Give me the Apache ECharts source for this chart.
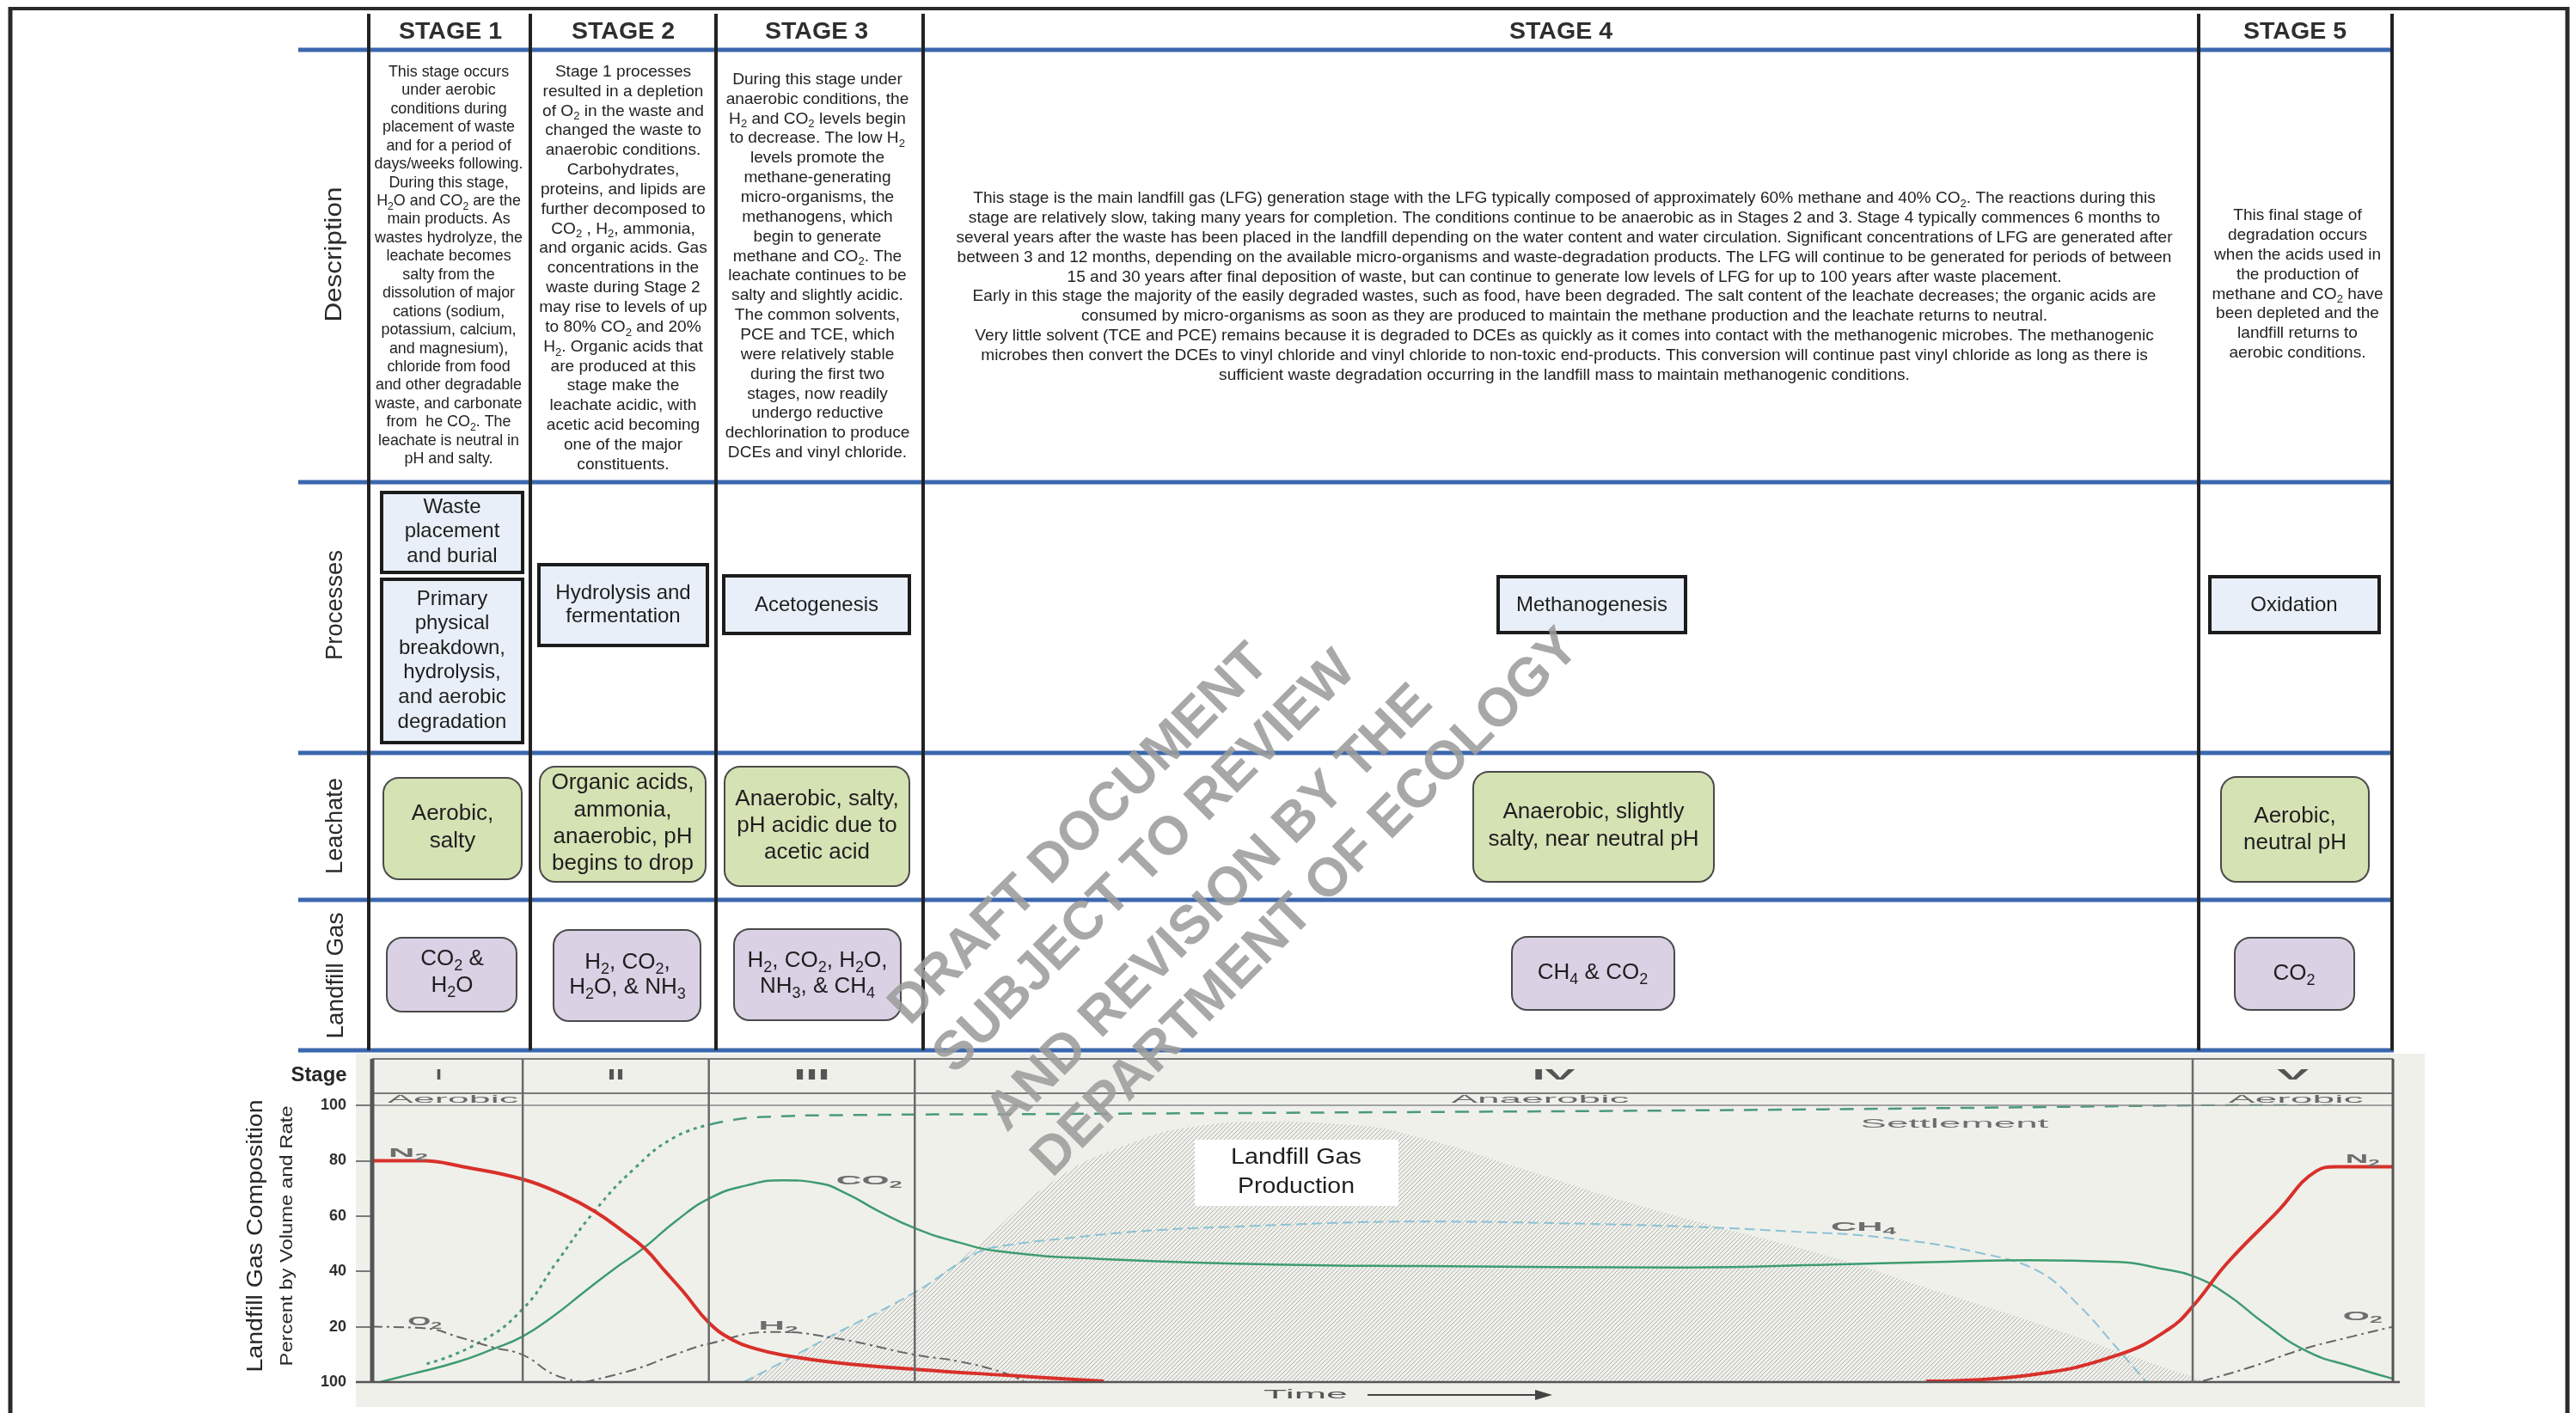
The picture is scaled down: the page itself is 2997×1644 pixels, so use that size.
<!DOCTYPE html>
<html><head><meta charset="utf-8">
<script src="https://cdn.jsdelivr.net/npm/echarts@6/dist/echarts.min.js"></script>
<style>html,body{margin:0;padding:0;background:#fff}#c{width:2997px;height:1644px}</style>
</head><body><div id="c"></div>
<script>
// ================= DATA =================
const stageHeaders = ['STAGE 1','STAGE 2','STAGE 3','STAGE 4','STAGE 5'];
const rowLabels = ['Description','Processes','Leachate','Landfill Gas'];

const desc1 = ['This stage occurs','under aerobic','conditions during','placement of waste','and for a period of','days/weeks following.','During this stage,','H{s|2}O and CO{s|2} are the','main products. As','wastes hydrolyze, the','leachate becomes','salty from the','dissolution of major','cations (sodium,','potassium, calcium,','and magnesium),','chloride from food','and other degradable','waste, and carbonate','from  he CO{s|2}. The','leachate is neutral in','pH and salty.'];
const desc2 = ['Stage 1 processes','resulted in a depletion','of O{s|2} in the waste and','changed the waste to','anaerobic conditions.','Carbohydrates,','proteins, and lipids are','further decomposed to','CO{s|2} , H{s|2}, ammonia,','and organic acids. Gas','concentrations in the','waste during Stage 2','may rise to levels of up','to 80% CO{s|2} and 20%','H{s|2}. Organic acids that','are produced at this','stage make the','leachate acidic, with','acetic acid becoming','one of the major','constituents.'];
const desc3 = ['During this stage under','anaerobic conditions, the','H{s|2} and CO{s|2} levels begin','to decrease. The low H{s|2}','levels promote the','methane-generating','micro-organisms, the','methanogens, which','begin to generate','methane and CO{s|2}. The','leachate continues to be','salty and slightly acidic.','The common solvents,','PCE and TCE, which','were relatively stable','during the first two','stages, now readily','undergo reductive','dechlorination to produce','DCEs and vinyl chloride.'];
const desc4 = [
'This stage is the main landfill gas (LFG) generation stage with the LFG typically composed of approximately 60% methane and 40% CO{s|2}. The reactions during this',
'stage are relatively slow, taking many years for completion. The conditions continue to be anaerobic as in Stages 2 and 3. Stage 4 typically commences 6 months to',
'several years after the waste has been placed in the landfill depending on the water content and water circulation. Significant concentrations of LFG are generated after',
'between 3 and 12 months, depending on the available micro-organisms and waste-degradation products. The LFG will continue to be generated for periods of between',
'15 and 30 years after final deposition of waste, but can continue to generate low levels of LFG for up to 100 years after waste placement.',
'Early in this stage the majority of the easily degraded wastes, such as food, have been degraded. The salt content of the leachate decreases; the organic acids are',
'consumed by micro-organisms as soon as they are produced to maintain the methane production and the leachate returns to neutral.',
'Very little solvent (TCE and PCE) remains because it is degraded to DCEs as quickly as it comes into contact with the methanogenic microbes. The methanogenic',
'microbes then convert the DCEs to vinyl chloride and vinyl chloride to non-toxic end-products. This conversion will continue past vinyl chloride as long as there is',
'sufficient waste degradation occurring in the landfill mass to maintain methanogenic conditions.'];
const desc5 = ['This final stage of','degradation occurs','when the acids used in','the production of','methane and CO{s|2} have','been depleted and the','landfill returns to','aerobic conditions.'];

const processTexts = [['Waste','placement','and burial'],['Primary','physical','breakdown,','hydrolysis,','and aerobic','degradation'],['Hydrolysis and','fermentation'],['Acetogenesis'],['Methanogenesis'],['Oxidation']];
const leachateTexts = [['Aerobic,','salty'],['Organic acids,','ammonia,','anaerobic, pH','begins to drop'],['Anaerobic, salty,','pH acidic due to','acetic acid'],['Anaerobic, slightly','salty, near neutral pH'],['Aerobic,','neutral pH']];
const gasTexts = [['CO{s|2} &','H{s|2}O'],['H{s|2}, CO{s|2},','H{s|2}O, & NH{s|3}'],['H{s|2}, CO{s|2}, H{s|2}O,','NH{s|3}, & CH{s|4}'],['CH{s|4} & CO{s|2}'],['CO{s|2}']];

const chartStages = ['I','II','III','IV','V'];
const stageBounds = [7.45, 16.66, 26.85, 90.09];
const bandTexts = ['Aerobic','Anaerobic','Aerobic'];
const yTickLabels = ['100','20','40','60','80','100'];
const curveLabelTexts = ['N{s|2}','O{s|2}','CO{s|2}','H{s|2}','CH{s|4}','Settlement','N{s|2}','O{s|2}'];
const watermarkLines = ['DRAFT DOCUMENT','SUBJECT TO REVIEW','AND REVISION BY THE','DEPARTMENT OF ECOLOGY'];

// gas composition curves: [time (0-100), percent]
const n2Data = [[0,80],[2.5,80],[4.5,77.8],[7.45,73.3],[9.5,67.5],[11.0,61.7],[12.5,54],[13.5,48.2],[14.5,40],[15.4,32.6],[16.7,21.2],[17.9,15],[19.0,12],[20.3,9.8],[23.0,7],[26.9,4.6],[31.7,2.3],[36.2,0.3],[56,'-'],[76.9,0.3],[82.0,2.5],[86.4,9.8],[88.9,19.1],[90.1,27.4],[91.8,43],[94.3,61.7],[96.2,76.2],[97.2,77.8],[100,77.8]];
const co2Data = [[0.4,0],[2,3],[4.2,7.2],[6,12],[7.45,16.5],[9,24],[10.5,32.6],[12,41],[13.4,48.2],[15,58],[16.7,66.4],[18.5,71],[20.3,72.9],[22,72],[23.5,68],[25,62],[26.9,55.5],[29,50.5],[31.2,47.1],[36,44.5],[44.6,42.5],[52,41.9],[65,41.4],[72.3,42.5],[78,43.5],[82,44],[86.4,43.4],[88.5,41],[90.1,38.3],[91.8,31.6],[93.5,22],[95.7,11.3],[98,5.5],[100,1.2]];
const settleDotted = [[2.7,6.6],[5.2,13.9],[7.45,26.4],[9.1,43],[11,61.7],[13,77.3],[14.9,88.2],[16.7,93]];
const settleDashed = [[16.7,93],[19.1,95.7],[24,96.5],[31.7,96.8],[50,97.5],[65.8,98.2],[78,99],[90,100],[97,100.6]];
const ch4Data = [[18.4,0],[20.5,8],[22.8,17],[26.9,32.6],[29.9,46.6],[31.5,49.5],[34.8,52.3],[38,54.5],[42.1,56],[51.9,58],[58,57.5],[65.8,56],[70,54.5],[74.7,52.3],[79.6,46.6],[82.5,39.9],[84.5,27.4],[86.4,11.8],[87.8,0]];
const o2Data = [[0,20],[2.5,19.5],[4.4,16],[6,12.5],[7.45,9.8],[9.07,2.5],[10.5,0],[50,'-'],[90.6,0.4],[93,5.5],[95.5,11.8],[98,16.5],[100,20]];
const h2Data = [[10.5,0],[13,4.6],[15,10],[16.7,13.9],[19.8,18.1],[22.8,16],[26.9,9.8],[29,7.5],[31.2,3.5],[32.3,0]];
const lfgData = [[18.4,0],[22.8,17],[26.9,32.6],[29.9,49],[33.6,72],[37.3,85.6],[40.9,92.5],[44.1,94],[48.3,93],[51.9,88.2],[56.8,77.3],[61.7,65.9],[65.8,57.6],[72.3,45],[77.1,33.6],[82,22.2],[86.9,9.8],[90.1,1.8],[91,0]];

// ================= HELPERS =================
const FF = "'Liberation Sans', Arial, Helvetica, sans-serif";
const mctx = document.createElement('canvas').getContext('2d');
function segs(s){ const out=[]; const re=/\{s\|([^}]*)\}/g; let last=0,m;
  while((m=re.exec(s))){ if(m.index>last) out.push([s.slice(last,m.index),false]); out.push([m[1],true]); last=re.lastIndex; }
  if(last<s.length) out.push([s.slice(last),false]); return out; }
function measure(s,size,weight){ let w=0; const sub=Math.round(size*0.68);
  for(const [t,isSub] of segs(s)){ mctx.font=(weight||'normal')+' '+(isSub?sub:size)+'px '+FF; w+=mctx.measureText(t).width; } return w; }
function fit(s,size,weight,target){ return target/measure(s,size,weight); }
function T(x,y,s,o){
  const size=o.size, sub=Math.round(size*0.68), col=o.color||'#262626', wt=o.weight||'normal', al=o.align||'center';
  return {type:'text', x:x, y:y, rotation:o.rot||0, scaleX:o.sx||1, scaleY:o.sy||1, z:o.z||5, silent:true,
    style:{text:s, fontSize:size, fontFamily:FF, fontWeight:wt, fill:col, opacity:(o.opacity==null?1:o.opacity),
      lineHeight:Math.round(size*1.35), align:al, textAlign:al, verticalAlign:'middle', textVerticalAlign:'middle',
      rich:{ s:{fontSize:sub, fontFamily:FF, fontWeight:wt, fill:col, lineHeight:sub, verticalAlign:'bottom'} } } };
}
function block(arr,cx,y0,dy,o){ return arr.map((s,i)=>T(cx,y0+i*dy,s,o)); }
function L(x1,y1,x2,y2,c,w,z){ return {type:'line', z:z||4, silent:true, shape:{x1,y1,x2,y2}, style:{stroke:c,lineWidth:w}}; }
function R(x,y,w,h,fill,stroke,lw,r,z){ return {type:'rect', z:z||3, silent:true, shape:{x,y,width:w,height:h,r:r||0}, style:{fill,stroke,lineWidth:lw||0}}; }

// hatch pattern
const hc=document.createElement('canvas'); hc.width=5; hc.height=5;
(function(){ const g=hc.getContext('2d'); g.strokeStyle='#b2b2b0'; g.lineWidth=1; g.beginPath();
  g.moveTo(0,5); g.lineTo(5,0); g.moveTo(-1,1); g.lineTo(1,-1); g.moveTo(4,6); g.lineTo(6,4); g.stroke(); })();

// ================= CHART =================
const chart = echarts.init(document.getElementById('c'), null, {renderer:'canvas', width:2997, height:1644});
const sBase = {type:'line', showSymbol:false, symbol:'none', silent:true, connectNulls:false};
chart.setOption({
  animation:false, backgroundColor:'#ffffff',
  grid:{left:433, right:213, top:1286, bottom:36},
  xAxis:{type:'value', min:0, max:100, axisLine:{show:false}, axisTick:{show:false}, axisLabel:{show:false}, splitLine:{show:false}},
  yAxis:{type:'value', min:0, max:100, interval:20, axisLine:{show:false},
    axisTick:{show:true, length:19, lineStyle:{color:'#7a7a7a', width:2}},
    axisLabel:{margin:30, fontSize:18, fontWeight:'bold', fontFamily:FF, color:'#2e2e2e', formatter:(v)=>yTickLabels[Math.round(v/20)]},
    splitLine:{show:false}},
  series:[
    Object.assign({}, sBase, {name:'Landfill Gas Production', data:lfgData, smooth:0.5, z:1, lineStyle:{width:0, opacity:0}, areaStyle:{color:{image:hc, repeat:'repeat'}, opacity:1}}),
    Object.assign({}, sBase, {name:'Settlement a', data:settleDotted, smooth:0.5, z:3, lineStyle:{color:'#4a9a7c', width:3, type:[4,5]}}),
    Object.assign({}, sBase, {name:'Settlement b', data:settleDashed, smooth:0.5, z:3, lineStyle:{color:'#4a9a7c', width:2.5, type:[16,12]}}),
    Object.assign({}, sBase, {name:'CH4', data:ch4Data, smooth:0.4, z:3, lineStyle:{color:'#8cc2d6', width:2, type:[12,6]}}),
    Object.assign({}, sBase, {name:'CO2', data:co2Data, smooth:0.5, z:4, lineStyle:{color:'#3d9c6f', width:2.5}}),
    Object.assign({}, sBase, {name:'O2', data:o2Data, smooth:0.5, z:4, lineStyle:{color:'#666', width:2, type:[12,5,3,5]}}),
    Object.assign({}, sBase, {name:'H2', data:h2Data, smooth:0.5, z:4, lineStyle:{color:'#666', width:2, type:[12,5,3,5]}}),
    Object.assign({}, sBase, {name:'N2', data:n2Data, smooth:0.45, z:5, lineStyle:{color:'#d8302a', width:4}})
  ]
});

const px = t => chart.convertToPixel({gridIndex:0},[t,0])[0];
const py = v => chart.convertToPixel({gridIndex:0},[0,v])[1];
const X0=px(0), X1=px(100), YT=py(100), YB=py(0);
const BT=YT-54, BM=YT-14;

const els = [];
// outer frame
els.push(L(12,10,2987,10,'#2a2a2a',4,6), L(12,8,12,1644,'#2a2a2a',5,6), L(2987,8,2987,1644,'#2a2a2a',5,6));

// --- table ---
const colX = [429,617,833,1074,2558,2783];
const rowY = [58,561,876,1047,1222];
rowY.forEach(y=>els.push(L(347,y,2785,y,'#3b67ae',5,4)));
colX.forEach(x=>els.push(L(x,16,x,1222,'#222',4,5)));

// headers
const hdrX=[524,725,950,1816,2670];
const hsx = fit('STAGE 1',27,'bold',120);
stageHeaders.forEach((h,i)=>els.push(T(hdrX[i],38,h,{size:27,weight:'bold',color:'#2e2e2e',sx:hsx})));

// row labels
const rlPos=[[390,296,157],[391,704,128],[391,961,112],[392,1135,147]];
rowLabels.forEach((r,i)=>{ const sz=27; els.push(T(rlPos[i][0],rlPos[i][1],r,{size:sz,rot:Math.PI/2,sx:fit(r,sz,'normal',rlPos[i][2]),color:'#2a2a2a'})); });

// descriptions
const dsz=19;
els.push(...block(desc1,522,83.6,21.45,{size:dsz,sx:fit('days/weeks following.',dsz,'normal',173),color:'#222'}));
els.push(...block(desc2,725,83.6,22.85,{size:dsz,sx:fit('and organic acids. Gas',dsz,'normal',195.4),color:'#222'}));
els.push(...block(desc3,951,92.7,22.85,{size:dsz,sx:fit('dechlorination to produce',dsz,'normal',214.7),color:'#222'}));
els.push(...block(desc4,1820,231,22.85,{size:dsz,sx:fit(desc4[3],dsz,'normal',1413),color:'#222'}));
els.push(...block(desc5,2673,251,22.85,{size:dsz,sx:fit('when the acids used in',dsz,'normal',194),color:'#222'}));

// process boxes
const pBox=[[444,573,608,666],[444,674,608,864],[627,657,823,751],[842,670,1058,737],[1743,671,1961,736],[2571,671,2768,736]];
const pTxt=[[526,590,28.6],[526,697,28.6],[725,690,27.5],[950,704,0],[1852,704,0],[2669,704,0]];
pBox.forEach((b,i)=>{ els.push(R(b[0],b[1],b[2]-b[0],b[3]-b[1],'#e9eff8','#1c1c1c',4,0,3));
  els.push(...block(processTexts[i],pTxt[i][0],pTxt[i][1],pTxt[i][2],{size:24,color:'#1e1e1e'})); });

// leachate boxes
const lBox=[[446,905,607,1023],[628,892,821,1026],[843,892,1058,1031],[1714,898,1994,1026],[2584,904,2756,1026]];
const lTxt=[[526.5,947,32],[724.5,911,31.4],[950.5,929.5,31],[1854,944.5,32.5],[2670,950,31]];
lBox.forEach((b,i)=>{ els.push(R(b[0],b[1],b[2]-b[0],b[3]-b[1],'#d5e2b4','#4a4a4a',2,18,3));
  els.push(...block(leachateTexts[i],lTxt[i][0],lTxt[i][1],lTxt[i][2],{size:26,color:'#1e1e1e'})); });

// gas boxes
const gBox=[[450,1091,601,1177],[644,1082,815,1188],[854,1081,1048,1187],[1759,1090,1948,1175],[2600,1091,2739,1175]];
const gTxt=[[526,1115.5,31.5],[730,1120,29],[951,1117.5,30.5],[1853,1132,0],[2669,1133,0]];
gBox.forEach((b,i)=>{ els.push(R(b[0],b[1],b[2]-b[0],b[3]-b[1],'#dad1e5','#4a4a4a',2,18,3));
  els.push(...block(gasTexts[i],gTxt[i][0],gTxt[i][1],gTxt[i][2],{size:26,color:'#1e1e1e'})); });

// --- chart panel & frame ---
els.push(Object.assign(R(414,1226,2821-414,1637-1226,'#f0f0eb',null,0,0,0),{z:-10}));
els.push(L(X0,BT,X1,BT,'#7a7a7a',2,6), L(X0,BM,X1,BM,'#7a7a7a',2,6), L(X0,YT,X1,YT,'#8a8a8a',1.5,6));
els.push(L(414,YB,X1+8,YB,'#555',2.5,6));
els.push(L(X0,BT,X0,YB+1,'#555',5,7), L(X1,BT,X1,YB+1,'#555',3,7));
stageBounds.forEach(b=>els.push(L(px(b),BT,px(b),YB,'#6a6a6a',2.5,6)));
const sEdges=[0].concat(stageBounds,[100]);
const romanW=[7,20,42,50,37];
chartStages.forEach((s,i)=>{ const cx=px((sEdges[i]+sEdges[i+1])/2)+(i===0?-10:0);
  els.push(T(cx,BT+20,s,{size:16,weight:'bold',color:'#555',sx:fit(s,16,'bold',romanW[i]),z:8})); });
const bandLayout=[[4.0,152],[57.8,207],[95.2,157]];
bandTexts.forEach((s,i)=>els.push(T(px(bandLayout[i][0]),BM+7,s,{size:13,color:'#6a6a6a',sx:fit(s,13,'normal',bandLayout[i][1]),z:8})));

// curve labels
const labelLayout=[[1.79,82.6,46],[2.6,21.8,40],[24.6,72.6,77],[20.1,20.2,46],[73.8,55.8,76],[78.3,93.1,219],[98.5,80.4,40],[98.5,23.7,46]];
curveLabelTexts.forEach((s,i)=>{ const a=labelLayout[i]; const sz=15; const wt=(s==='Settlement'?'normal':'bold');
  els.push(T(px(a[0]),py(a[1]),s,{size:sz,weight:wt,color:'#6e6e6e',sx:fit(s,sz,wt,a[2]),z:8})); });

// Landfill Gas Production label
els.push(R(1390,1326,237,77,'#ffffff',null,0,0,9));
els.push(T(1508,1347,'Landfill Gas',{size:26,color:'#1e1e1e',sx:fit('Landfill Gas',26,'normal',152),z:10}));
els.push(T(1508,1381,'Production',{size:26,color:'#1e1e1e',sx:fit('Production',26,'normal',136),z:10}));

// axis titles
els.push(T(298,1438,'Landfill Gas Composition',{size:25,rot:Math.PI/2,sx:fit('Landfill Gas Composition',25,'normal',317),color:'#262626'}));
els.push(T(334,1438,'Percent by Volume and Rate',{size:20,rot:Math.PI/2,sx:fit('Percent by Volume and Rate',20,'normal',303),color:'#262626'}));
els.push(T(371,1251,'Stage',{size:24,weight:'bold',sx:fit('Stage',24,'bold',65),color:'#262626'}));

// Time arrow
els.push(T(1519,1623,'Time',{size:15,color:'#555',sx:fit('Time',15,'normal',98),z:8}));
els.push(L(1591,1623,1790,1623,'#444',2,8));
els.push({type:'polygon',z:8,silent:true,shape:{points:[[1786,1617],[1806,1623],[1786,1629]]},style:{fill:'#444'}});

// watermark
const wmPos=[[1046,1182],[1098,1239],[1159,1306],[1212,1359]];
watermarkLines.forEach((s,i)=>els.push(T(wmPos[i][0],wmPos[i][1],s,{size:63,weight:'bold',align:'left',rot:Math.PI/4,color:'#9c9c9c',opacity:0.88,z:100})));

chart.setOption({graphic:{elements:els}});
</script></body></html>
